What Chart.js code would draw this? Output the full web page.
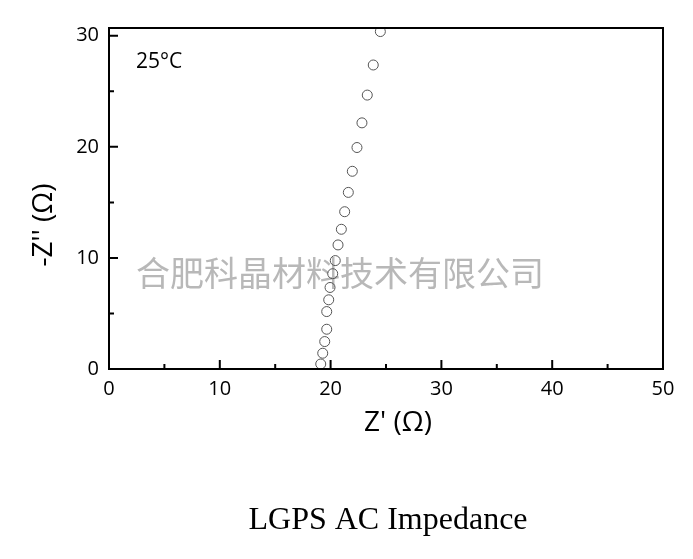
<!DOCTYPE html>
<html>
<head>
<meta charset="utf-8">
<script src="https://cdn.jsdelivr.net/npm/chart.js@4.4.0/dist/chart.umd.min.js"></script>
<style>
  html, body { margin: 0; padding: 0; background: #fff; }
  #wrap { width: 693px; height: 559px; }
</style>
</head>
<body>
<div id="wrap"><canvas id="grafico" width="693" height="559"></canvas></div>
<script>
// --- dados ---
const zReal = [19.11, 19.29, 19.47, 19.65, 19.65, 19.83, 19.95, 20.19, 20.42, 20.67,
               20.97, 21.27, 21.6, 21.96, 22.38, 22.83, 23.31, 23.85, 24.49];
const zImag = [0.45, 1.42, 2.47, 3.58, 5.17, 6.23, 7.34, 8.58, 9.76, 11.17,
               12.58, 14.16, 15.9, 17.8, 19.94, 22.16, 24.66, 27.37, 30.38];
const xTicks = [0, 10, 20, 30, 40, 50];
const yTicks = [0, 10, 20, 30];
const xMinor = [5, 15, 25, 35, 45];
const yMinor = [5, 15, 25];

const pontos = zReal.map((x, i) => ({ x: x, y: zImag[i] }));

// moldura, ticks internos e textos
const molduraPlugin = {
    id: 'moldura',
    beforeDatasetsDraw(chart) {
        const c = chart.ctx;
        c.save();
        c.font = '34px "Noto Sans CJK SC"';
        c.fillStyle = '#b8b8b8';
        c.textAlign = 'center';
        c.textBaseline = 'middle';
        c.fillText('合肥科晶材料技术有限公司', 340, 273);
        c.restore();
    },
    afterDraw(chart) {
        const c = chart.ctx;
        const a = chart.chartArea;
        const sx = chart.scales.x, sy = chart.scales.y;
        c.save();
        c.strokeStyle = '#000';
        c.lineWidth = 2;
        c.strokeRect(a.left, a.top, a.right - a.left, a.bottom - a.top);
        c.beginPath();
        xTicks.forEach(v => { const p = sx.getPixelForValue(v); c.moveTo(p, a.bottom); c.lineTo(p, a.bottom - 9); });
        xMinor.forEach(v => { const p = sx.getPixelForValue(v); c.moveTo(p, a.bottom); c.lineTo(p, a.bottom - 5); });
        yTicks.forEach(v => { const p = sy.getPixelForValue(v); c.moveTo(a.left, p); c.lineTo(a.left + 9, p); });
        yMinor.forEach(v => { const p = sy.getPixelForValue(v); c.moveTo(a.left, p); c.lineTo(a.left + 5, p); });
        c.stroke();

        c.fillStyle = '#000';
        c.textAlign = 'center';
        c.textBaseline = 'middle';
        c.font = '28px "Open Sans"';
        c.fillText("Z' (Ω)", 398, 423);
        c.save();
        c.translate(44, 225);
        c.rotate(-Math.PI / 2);
        c.fillText("-Z'' (Ω)", 0, 0);
        c.restore();

        c.textAlign = 'left';
        c.font = '21px "Open Sans"';
        c.fillText('25°C', 136, 62);

        c.textAlign = 'center';
        c.font = '32px "Liberation Serif"';
        c.fillText('LGPS AC Impedance', 388, 521);
        c.restore();
    }
};

const fonteTicks = { family: '"Open Sans"', size: 20 };

new Chart(document.getElementById('grafico').getContext('2d'), {
    type: 'scatter',
    data: {
        datasets: [{
            label: 'LGPS',
            data: pontos,
            pointRadius: 5,
            pointBorderWidth: 1,
            pointBorderColor: '#555',
            pointBackgroundColor: 'rgba(255,255,255,0)',
            showLine: false
        }]
    },
    options: {
        responsive: false,
        animation: false,
        layout: { padding: { left: 0, top: 28, right: 30, bottom: 0 } },
        plugins: {
            legend: { display: false },
            tooltip: { enabled: false }
        },
        scales: {
            x: {
                type: 'linear',
                min: 0,
                max: 50,
                afterFit(scale) { scale.height = 190; },
                afterBuildTicks(scale) { scale.ticks = xTicks.map(v => ({ value: v })); },
                grid: { display: false, drawTicks: false },
                border: { display: false },
                ticks: { color: '#000', font: fonteTicks, padding: 8, maxRotation: 0 }
            },
            y: {
                type: 'linear',
                min: 0,
                max: 30.7,
                afterFit(scale) { scale.width = 109; },
                afterBuildTicks(scale) { scale.ticks = yTicks.map(v => ({ value: v })); },
                grid: { display: false, drawTicks: false },
                border: { display: false },
                ticks: { color: '#000', font: fonteTicks, padding: 10 }
            }
        }
    },
    plugins: [molduraPlugin]
});
</script>
</body>
</html>
